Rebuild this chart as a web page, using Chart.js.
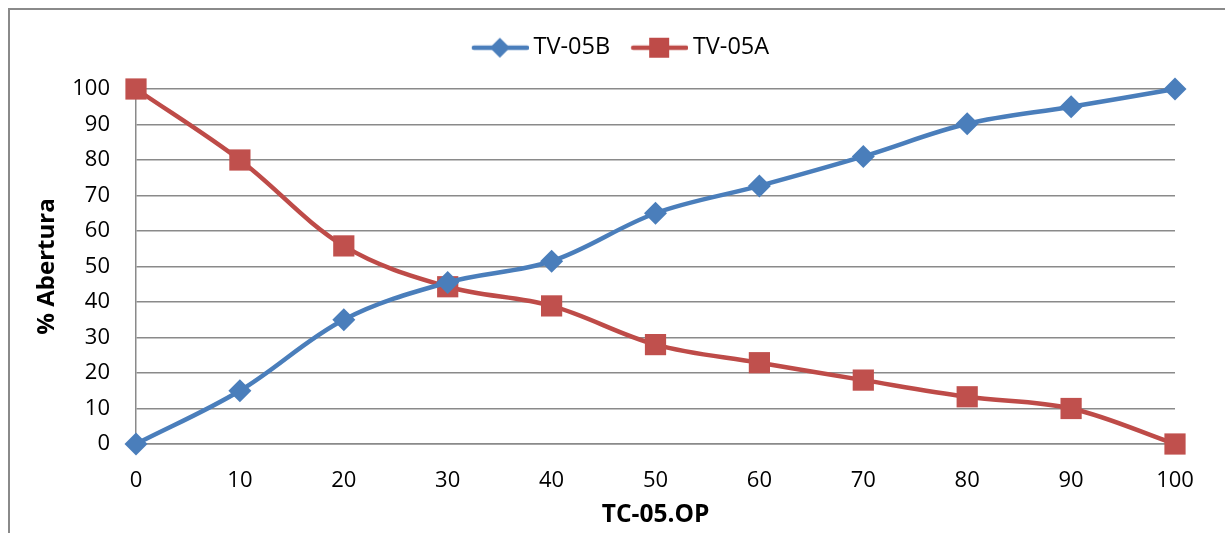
<!DOCTYPE html>
<html>
<head>
<meta charset="utf-8">
<script src="https://cdn.jsdelivr.net/npm/chart.js@4/dist/chart.umd.min.js"></script>
<style>
  html, body { margin: 0; padding: 0; background: #fff; }
  #wrap { position: relative; width: 1225px; height: 533px; }
  #frame { position: absolute; left: 8px; top: 8px; right: 0; bottom: 0;
    border-top: 2px solid #8a8a8a; border-left: 2px solid #8a8a8a; box-sizing: border-box; }
  canvas { position: absolute; left: 0; top: 0; }
</style>
</head>
<body>
<div id="wrap">
  <div id="frame"></div>
  <canvas id="chart" width="1225" height="533"></canvas>
</div>
<script>
/* global Chart */
const opValues = [0, 10, 20, 30, 40, 50, 60, 70, 80, 90, 100]
const tv05b = [0, 15, 35, 45.5, 51.5, 65, 72.7, 81, 90.2, 95, 100]
const tv05a = [100, 80, 55.8, 44.3, 38.9, 28, 22.9, 18, 13.3, 10, 0]
const yTicks = [0, 10, 20, 30, 40, 50, 60, 70, 80, 90, 100]

const BLUE = '#4a7ebb'
const RED = '#be4b48'
const FONT = '"Open Sans", "Noto Sans", sans-serif'

// legend swatch: line with the series marker in the middle
function legendIcon (color, style) {
  const c = document.createElement('canvas')
  c.width = 58
  c.height = 24
  const ctx = c.getContext('2d')
  ctx.strokeStyle = color
  ctx.lineWidth = 4.5
  ctx.lineCap = 'round'
  ctx.beginPath()
  ctx.moveTo(3, 12)
  ctx.lineTo(56, 12)
  ctx.stroke()
  ctx.fillStyle = color
  ctx.beginPath()
  if (style === 'diamond') {
    ctx.moveTo(29, 2); ctx.lineTo(39, 12); ctx.lineTo(29, 22); ctx.lineTo(19, 12)
  } else {
    ctx.rect(19, 2, 20, 20)
  }
  ctx.closePath()
  ctx.fill()
  return c
}

const toPoints = ys => ys.map((y, i) => ({ x: opValues[i], y }))

const legendFit = {
  id: 'legendFit',
  beforeInit (chart) {
    const fit = chart.legend.fit
    chart.legend.fit = function () {
      fit.bind(chart.legend)()
      this.height = 80
    }
  },
  afterLayout (chart) {
    chart.legend.left += 22
    chart.legend.right += 22
  }
}

new Chart(document.getElementById('chart'), {
  type: 'line',
  data: {
    datasets: [{
      label: 'TV-05B',
      data: toPoints(tv05b),
      borderColor: BLUE,
      backgroundColor: BLUE,
      borderWidth: 4.5,
      pointStyle: 'rectRot',
      pointRadius: 11.5,
      pointBorderWidth: 0,
      tension: 0.35,
      clip: false,
      legendIcon: legendIcon(BLUE, 'diamond')
    }, {
      label: 'TV-05A',
      data: toPoints(tv05a),
      borderColor: RED,
      backgroundColor: '#c0504d',
      borderWidth: 4.5,
      pointStyle: 'rect',
      pointRadius: 15,
      pointBorderWidth: 0,
      tension: 0.35,
      clip: false,
      legendIcon: legendIcon(RED, 'square')
    }]
  },
  plugins: [legendFit],
  options: {
    responsive: false,
    animation: false,
    layout: { padding: { left: 28, right: 50, top: 9, bottom: 3 } },
    plugins: {
      tooltip: { enabled: false },
      legend: {
        position: 'top',
        labels: {
          usePointStyle: true,
          pointStyleWidth: 44,
          padding: 27,
          color: '#000',
          font: { family: FONT, size: 23.5 },
          generateLabels (chart) {
            return chart.data.datasets.map((ds, i) => ({
              text: ds.label,
              pointStyle: ds.legendIcon,
              fillStyle: ds.borderColor,
              strokeStyle: ds.borderColor,
              lineWidth: 0,
              fontColor: '#000',
              datasetIndex: i
            }))
          }
        }
      }
    },
    scales: {
      x: {
        type: 'linear',
        min: 0,
        max: 100,
        afterBuildTicks (scale) { scale.ticks = opValues.map(v => ({ value: v })) },
        afterFit (scale) { scale.height = 533 - 444 - 3 },
        grid: { display: false, drawTicks: false },
        border: { display: true, color: '#8a8a8a', width: 1.5 },
        ticks: { color: '#000', padding: 24, maxRotation: 0, font: { family: FONT, size: 22 } },
        title: {
          display: true,
          text: 'TC-05.OP',
          color: '#000',
          padding: { top: 0, bottom: 0 },
          font: { family: FONT, size: 24.5, weight: 'bold' }
        }
      },
      y: {
        min: 0,
        max: 100,
        afterBuildTicks (scale) { scale.ticks = yTicks.map(v => ({ value: v })) },
        afterFit (scale) { scale.width = 136 - 28 },
        grid: { color: '#8a8a8a', lineWidth: 1.5, drawTicks: false },
        border: { display: true, color: '#8a8a8a', width: 1.5 },
        ticks: { color: '#000', padding: 26, font: { family: FONT, size: 22 } },
        title: {
          display: true,
          text: '% Abertura',
          color: '#000',
          padding: { top: 5, bottom: 0 },
          font: { family: FONT, size: 24, weight: 'bold' }
        }
      }
    }
  }
})
</script>
</body>
</html>
